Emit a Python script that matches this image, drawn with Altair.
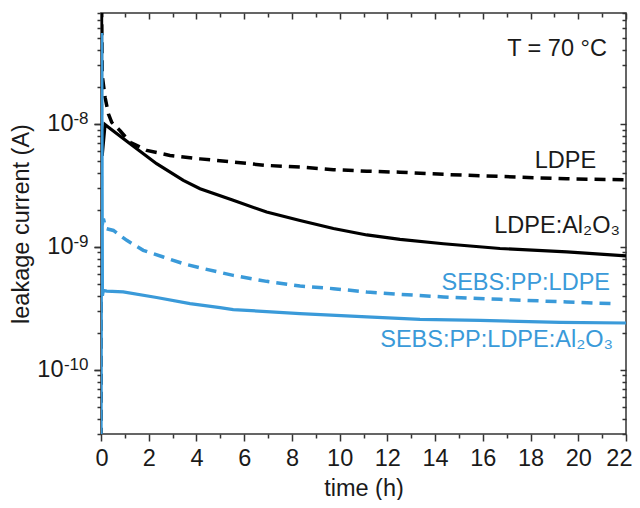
import altair as alt
import pandas as pd

# ---- data ----
ldpe_t = [0.0, 0.02, 0.05, 0.17, 0.31, 0.45, 0.8, 1.22, 1.92, 2.89, 4.15, 5.54, 6.94, 8.34, 9.74, 11.14, 12.53, 14.35, 16.72, 19.52, 22.0]
ldpe_I = [1.0e-11, 1.5e-7, 2.5e-8, 1.65e-8, 1.21e-8, 1.03e-8, 8.8e-9, 7.1e-9, 6.1e-9, 5.55e-9, 5.2e-9, 4.9e-9, 4.6e-9, 4.46e-9, 4.25e-9, 4.13e-9, 4.05e-9, 3.89e-9, 3.74e-9, 3.58e-9, 3.51e-9]

ldpe_al_t = [0.05, 0.17, 0.38, 1.22, 2.33, 3.45, 4.15, 5.54, 6.94, 8.34, 9.74, 11.14, 12.53, 14.35, 16.72, 19.52, 22.0]
ldpe_al_I = [5.5e-9, 9.9e-9, 9.2e-9, 6.9e-9, 4.75e-9, 3.47e-9, 2.97e-9, 2.39e-9, 1.92e-9, 1.64e-9, 1.41e-9, 1.25e-9, 1.15e-9, 1.06e-9, 9.7e-10, 9.1e-10, 8.45e-10]

sebs_t = [0.05, 0.1, 0.2, 0.52, 1.08, 1.77, 2.61, 3.45, 4.29, 5.54, 6.94, 8.34, 9.74, 11.14, 12.53, 14.35, 16.72, 19.52, 21.4]
sebs_I = [1.5e-9, 1.7e-9, 1.41e-9, 1.36e-9, 1.13e-9, 9.37e-10, 8.27e-10, 7.3e-10, 6.65e-10, 5.86e-10, 5.24e-10, 4.8e-10, 4.57e-10, 4.29e-10, 4.11e-10, 3.91e-10, 3.74e-10, 3.56e-10, 3.45e-10]

sebs_al_t = [0.0, 0.03, 0.06, 0.1, 0.24, 0.93, 2.33, 3.73, 4.99, 5.54, 8.34, 11.14, 13.37, 15.88, 19.24, 22.0]
sebs_al_I = [1.0e-11, 5.5e-8, 4.0e-10, 4.43e-10, 4.37e-10, 4.3e-10, 3.87e-10, 3.45e-10, 3.2e-10, 3.09e-10, 2.86e-10, 2.69e-10, 2.57e-10, 2.52e-10, 2.43e-10, 2.4e-10]

label_text = ["T = 70 °C", "LDPE", "LDPE:Al₂O₃", "SEBS:PP:LDPE", "SEBS:PP:LDPE:Al₂O₃"]
label_t = [21.2, 20.75, 21.75, 21.33, 21.46]
label_I = [3.6e-8, 4.35e-9, 1.29e-9, 4.43e-10, 1.52e-10]
label_color = ["#1a1a1a", "#1a1a1a", "#1a1a1a", "#3a9ad9", "#3a9ad9"]

x_major = list(range(0, 23, 2))
x_minor = list(range(1, 22, 2))
y_major = [1e-10, 1e-9, 1e-8]
y_major_short = [1e-9, 1e-8]   # decades whose exponent has one digit
y_major_long = [1e-10]         # decades whose exponent has two digits
y_minor = [m * 10.0 ** e for e in (-11, -10, -9, -8) for m in range(2, 10)
           if 3e-11 <= m * 10.0 ** e <= 8e-8]

BLUE = "#3a9ad9"
FONT = "Liberation Sans"
FS = 23.5

def frame(t, i):
    return pd.DataFrame({"t": t, "I": i})

xs = alt.Scale(domain=[0, 22], nice=False, zero=False)
ys = alt.Scale(type="log", domain=[3e-11, 8e-8], nice=False)

tick_common = dict(domain=False, grid=False, tickColor="#333333", tickWidth=1.5)

x_bottom = alt.Axis(orient="bottom", values=x_major, tickSize=7, labels=True, format="d",
                    labelFont=FONT, labelFontSize=FS, labelColor="#1a1a1a", labelPadding=5,
                    labelOverlap=False, labelFlush=True, labelFlushOffset=6,
                    title="time (h)", titleFont=FONT, titleFontSize=FS, titleFontWeight="normal",
                    titleColor="#1a1a1a", titlePadding=7, domain=False, grid=False,
                    tickColor="#333333", tickWidth=1.5)
# mantissa "10" of the decade labels
y_left = alt.Axis(orient="left", values=y_major_short, tickSize=7, labels=True,
                  labelExpr="'10'", labelFlush=False,
                  labelFont=FONT, labelFontSize=FS, labelColor="#1a1a1a", labelPadding=21,
                  labelOverlap=False,
                  title="leakage current (A)", titleFont=FONT, titleFontSize=FS, titleFontWeight="normal",
                  titleColor="#1a1a1a", titlePadding=13, **tick_common)
y_left_long = alt.Axis(orient="left", values=y_major_long, tickSize=7, labels=True, title="",
                       labelExpr="'10'", labelFlush=False,
                       labelFont=FONT, labelFontSize=FS, labelColor="#1a1a1a", labelPadding=31,
                       labelOverlap=False, **tick_common)
# superscript exponents of the decade labels
y_exp = alt.Axis(orient="left", values=y_major, tickSize=7, labels=True, title="",
                 labelExpr="datum.value < 5e-10 ? '-10' : (datum.value < 5e-9 ? '-9' : '-8')",
                 labelFont=FONT, labelFontSize=17, labelColor="#1a1a1a", labelPadding=6,
                 labelOffset=-5, labelOverlap=False, labelFlush=False, **tick_common)

def plain_axis(orient, values, size, offset=0):
    return alt.Axis(orient=orient, values=values, tickSize=size, labels=False, title="",
                    offset=offset, **tick_common)

def line(t, i, color, dash, width):
    kw = dict(clip=True, color=color, strokeWidth=width)
    if dash:
        kw["strokeDash"] = dash
    return alt.Chart(frame(t, i)).mark_line(**kw).encode(
        x=alt.X("t:Q", scale=xs, axis=None),
        y=alt.Y("I:Q", scale=ys, axis=None),
    )

def ghost(xaxis, yaxis):
    return alt.Chart(frame(ldpe_al_t, ldpe_al_I)).mark_point(opacity=0, clip=True).encode(
        x=alt.X("t:Q", scale=xs, axis=xaxis),
        y=alt.Y("I:Q", scale=ys, axis=yaxis),
    )

main_axes = ghost(x_bottom, y_left)
long_axes = ghost(None, y_left_long)
exp_axes = ghost(None, y_exp)
minor_out = ghost(plain_axis("bottom", x_minor, 4), plain_axis("left", y_minor, 4))
major_in = ghost(plain_axis("top", x_major, 6, -6), plain_axis("right", y_major, 6, -6))
minor_in = ghost(plain_axis("top", x_minor, 4, -4), plain_axis("right", y_minor, 4, -4))

labels = alt.Chart(pd.DataFrame({"t": label_t, "I": label_I, "text": label_text, "c": label_color})).mark_text(
    align="right", baseline="alphabetic", font=FONT, fontSize=FS
).encode(
    x=alt.X("t:Q", scale=xs, axis=None),
    y=alt.Y("I:Q", scale=ys, axis=None),
    text="text:N",
    color=alt.Color("c:N", scale=None),
)

chart = alt.layer(
    main_axes, long_axes, exp_axes, minor_out, major_in, minor_in,
    line(ldpe_t, ldpe_I, "#000000", [11, 7], 3.5),
    line(ldpe_al_t, ldpe_al_I, "#000000", None, 3.2),
    line(sebs_t, sebs_I, BLUE, [11, 7], 3.5),
    line(sebs_al_t, sebs_al_I, BLUE, None, 3.2),
    labels,
).resolve_axis(x="independent", y="independent").properties(
    width=525, height=421,
    autosize=alt.AutoSizeParams(type="none"),
    padding={"left": 93, "top": 5, "right": 6, "bottom": 66},
    background="white",
).configure_view(stroke="#333333", strokeWidth=1.5)

chart.save("out.html", embed_options={"renderer": "svg", "actions": False})
